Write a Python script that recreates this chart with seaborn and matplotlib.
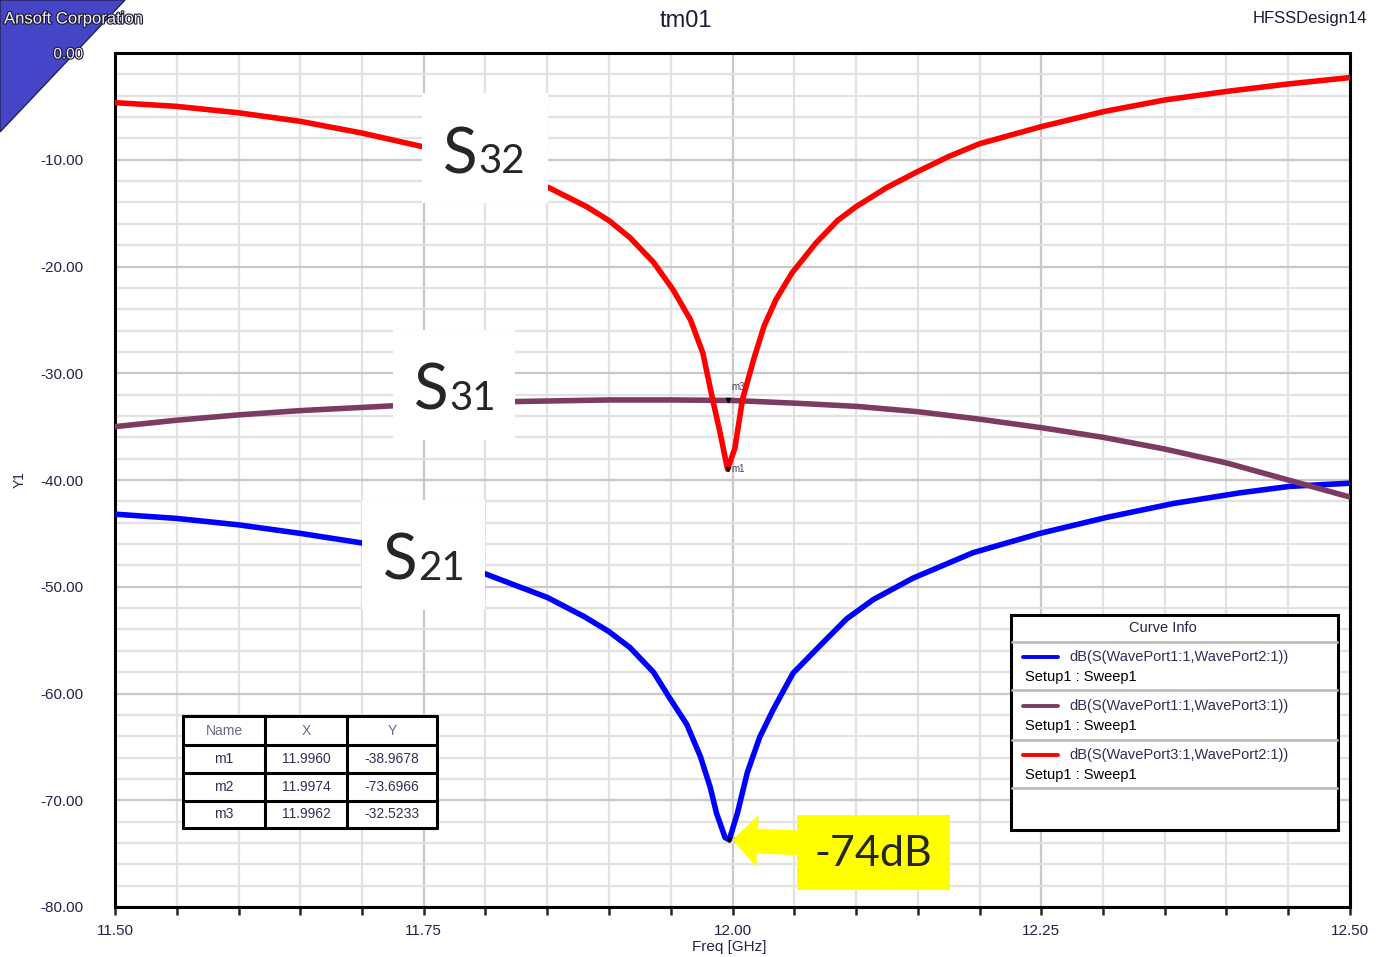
import matplotlib
matplotlib.use("Agg")
import matplotlib.pyplot as plt
import matplotlib.patches as mpatches
import matplotlib.lines as mlines
import matplotlib.patheffects as pe
import seaborn as sns
import pandas as pd
from matplotlib.ticker import MultipleLocator, FormatStrFormatter

# curve data (freq in GHz, dB)
s21_freq = [11.50, 11.55, 11.60, 11.65, 11.70, 11.75, 11.80, 11.85, 11.86, 11.88, 11.90,
            11.917, 11.936, 11.949, 11.963, 11.974, 11.982, 11.987, 11.994, 11.9974, 12.004,
            12.012, 12.022, 12.033, 12.049, 12.071, 12.0925, 12.114, 12.146, 12.195, 12.249,
            12.303, 12.357, 12.411, 12.451, 12.50]
s21_db = [-43.2, -43.6, -44.2, -45.0, -45.9, -47.1, -48.8, -51.0, -51.6, -52.8, -54.2,
          -55.7, -58.0, -60.4, -62.9, -65.9, -68.8, -71.2, -73.5, -73.7, -71.2,
          -67.4, -64.1, -61.5, -58.1, -55.5, -53.0, -51.2, -49.2, -46.8, -45.0,
          -43.5, -42.2, -41.2, -40.6, -40.3]

s31_freq = [11.50, 11.55, 11.60, 11.65, 11.70, 11.75, 11.80, 11.85, 11.90, 11.95, 12.00,
            12.05, 12.10, 12.15, 12.20, 12.25, 12.30, 12.35, 12.40, 12.45, 12.475, 12.50]
s31_db = [-35.0, -34.4, -33.9, -33.5, -33.2, -32.9, -32.7, -32.6, -32.5, -32.5, -32.55,
          -32.8, -33.1, -33.6, -34.3, -35.1, -36.0, -37.1, -38.4, -40.0, -40.8, -41.6]

s32_freq = [11.50, 11.55, 11.60, 11.65, 11.70, 11.75, 11.80, 11.851, 11.882, 11.90, 11.917,
            11.936, 11.952, 11.966, 11.976, 11.984, 11.990, 11.996, 12.002, 12.008, 12.0174,
            12.0255, 12.0352, 12.0482, 12.0676, 12.085, 12.10, 12.125, 12.15, 12.175, 12.20,
            12.25, 12.30, 12.35, 12.40, 12.45, 12.50]
s32_db = [-4.65, -5.0, -5.6, -6.4, -7.5, -8.8, -10.5, -12.6, -14.4, -15.7, -17.3,
          -19.6, -22.2, -25.0, -28.1, -32.5, -35.6, -39.0, -37.0, -32.5, -28.6,
          -25.6, -23.1, -20.6, -17.8, -15.7, -14.4, -12.6, -11.1, -9.7, -8.5,
          -6.9, -5.5, -4.4, -3.6, -2.9, -2.3]

curve_names = ["dB(S(WavePort1:1,WavePort2:1))",
               "dB(S(WavePort1:1,WavePort3:1))",
               "dB(S(WavePort3:1,WavePort2:1))"]
curve_colors = ["#0000ff", "#7b3b63", "#ff0000"]
curve_tags = ["21", "31", "32"]

marker_names = ["m1", "m2", "m3"]
marker_x = [11.9960, 11.9974, 11.9962]
marker_y = [-38.9678, -73.6966, -32.5233]

W, H = 1385, 957
TXT = "#2a1f4a"


def fp(x, y):
    # pixel position (from top-left) -> figure fraction
    return x / W, 1 - y / H


sns.set_style("white")
plt.rcParams["font.family"] = ["Liberation Sans", "DejaVu Sans"]

df = pd.concat([
    pd.DataFrame({"freq": s21_freq, "db": s21_db, "curve": curve_names[0]}),
    pd.DataFrame({"freq": s31_freq, "db": s31_db, "curve": curve_names[1]}),
    pd.DataFrame({"freq": s32_freq, "db": s32_db, "curve": curve_names[2]}),
])

fig = plt.figure(figsize=(W / 100, H / 100), dpi=100)
x0, y0 = fp(115, 907)
x1, y1 = fp(1350, 53)
ax = fig.add_axes([x0, y0, x1 - x0, y1 - y0])

sns.lineplot(data=df, x="freq", y="db", hue="curve", estimator=None,
             palette=dict(zip(curve_names, curve_colors)), linewidth=4,
             legend=False, ax=ax, zorder=3)

ax.set_xlim(11.5, 12.5)
ax.set_ylim(-80, 0)
ax.xaxis.set_major_locator(MultipleLocator(0.25))
ax.xaxis.set_minor_locator(MultipleLocator(0.05))
ax.yaxis.set_major_locator(MultipleLocator(10))
ax.yaxis.set_minor_locator(MultipleLocator(2))
ax.xaxis.set_major_formatter(FormatStrFormatter("%.2f"))
ax.yaxis.set_major_formatter(FormatStrFormatter("%.2f"))
ax.grid(which="major", color="#c8c8c8", linewidth=1.6, zorder=0)
ax.grid(which="minor", color="#e2e2e2", linewidth=1.6, zorder=0)
ax.set_axisbelow(True)
for sp in ax.spines.values():
    sp.set_linewidth(2.2)
    sp.set_color("black")
    sp.set_visible(True)
ax.tick_params(axis="y", which="major", length=15, width=2.2, direction="out",
               labelsize=11, labelcolor=TXT, pad=8)
ax.tick_params(axis="y", which="minor", length=8.5, width=2.2, direction="out")
ax.tick_params(axis="x", which="both", length=6, width=1.8, direction="out",
               labelsize=11, labelcolor=TXT, pad=6, bottom=True)
ax.set_xlabel("")
ax.set_ylabel("")
fig.text(*fp(729, 947), "Freq [GHz]", fontsize=11, ha="center", va="center", color=TXT)
fig.text(*fp(20, 480), "Y1", rotation=90, fontsize=10, ha="center", va="center", color=TXT)

# corner decoration + headers
fig.patches.append(mpatches.Polygon([fp(0, 0), fp(125, 0), fp(0, 132)], closed=True,
                                    transform=fig.transFigure, fc="#4545c8",
                                    ec="#22225a", lw=1, zorder=-1))
halo = [pe.withStroke(linewidth=1.6, foreground="#1a1a30")]
fig.text(*fp(4, 19), "Ansoft Corporation", fontsize=12, ha="left", va="center",
         color="#f4eefc", zorder=5, path_effects=halo)
fig.text(*fp(686, 21), "tm01", fontsize=17, ha="center", va="center", color="#1a1a3a")
fig.text(*fp(1367, 19), "HFSSDesign14", fontsize=12, ha="right", va="center",
         color="#1a1a3a")

fig.canvas.draw()
for lab in ax.get_yticklabels():
    if lab.get_text() == "0.00":
        lab.set_color("#f4eefc")
        lab.set_path_effects(halo)

# marker labels on the curves
for name, mx, my in zip(marker_names, marker_x, marker_y):
    ax.plot(mx, my, marker="v", ms=3, color="black", zorder=4)
    ax.text(mx + 0.003, my + 1.2 if name == "m3" else my, name, fontsize=7,
            color="#4a3a6a", ha="left", va="center", zorder=5)

# S-parameter labels in white boxes
label_boxes = [(362, 500, 485, 610), (393, 330, 515, 440), (422, 93, 548, 203)]
for tag, (bx0, by0, bx1, by1) in zip(curve_tags, label_boxes):
    lx, ly = fp(bx0, by1)
    ux, uy = fp(bx1, by0)
    fig.patches.append(mpatches.Rectangle((lx, ly), ux - lx, uy - ly,
                                          transform=fig.transFigure, fc="white",
                                          ec="none", zorder=4))
    fig.text(*fp(bx0 + 21, by0 + 80), "S", fontsize=46, family="Lato",
             ha="left", va="baseline", zorder=5)
    fig.text(*fp(bx0 + 56, by0 + 80), tag, fontsize=29, family="Lato",
             ha="left", va="baseline", zorder=5)

# -74dB callout
lx, ly = fp(797, 890)
ux, uy = fp(950, 815)
fig.patches.append(mpatches.Rectangle((lx, ly), ux - lx, uy - ly,
                                      transform=fig.transFigure, fc="#ffff00",
                                      ec="none", zorder=4))
fig.text(*fp(873, 854), "-74dB", fontsize=31, family="Lato", ha="center",
         va="center", zorder=5)
ax.annotate("", xy=(marker_x[1], marker_y[1]), xycoords="data",
            xytext=fp(800, 843), textcoords="figure fraction",
            arrowprops=dict(arrowstyle="simple,head_length=0.6,head_width=1.25,tail_width=0.6",
                            fc="#ffff00", ec="#ffff00", mutation_scale=28,
                            shrinkA=0, shrinkB=3), zorder=5)

# marker table
tx = [183, 265, 347, 437]
ty = [716, 745, 773, 801, 828]
fig.patches.append(mpatches.Rectangle(fp(tx[0], ty[-1]), (tx[-1] - tx[0]) / W,
                                      (ty[-1] - ty[0]) / H, transform=fig.transFigure,
                                      fc="white", ec="none", zorder=5))
for xv in tx:
    fig.add_artist(mlines.Line2D([fp(xv, 0)[0]] * 2, [fp(0, ty[0])[1], fp(0, ty[-1])[1]],
                                 color="black", lw=2.2, zorder=6))
for yv in ty:
    fig.add_artist(mlines.Line2D([fp(tx[0], 0)[0], fp(tx[-1], 0)[0]], [fp(0, yv)[1]] * 2,
                                 color="black", lw=2.2, zorder=6))
header = ["Name", "X", "Y"]
for j, h in enumerate(header):
    fig.text(*fp((tx[j] + tx[j + 1]) / 2, 731), h, fontsize=10, ha="center", va="center",
             color="#6a6a8a", zorder=7)
for i, (name, mx, my) in enumerate(zip(marker_names, marker_x, marker_y)):
    yc = (ty[i + 1] + ty[i + 2]) / 2
    for j, s in enumerate([name, f"{mx:.4f}", f"{my:.4f}"]):
        fig.text(*fp((tx[j] + tx[j + 1]) / 2, yc), s, fontsize=10, ha="center",
                 va="center", color="#3a2a5a", zorder=7)

# Curve Info legend box
fig.patches.append(mpatches.Rectangle(fp(1011, 830), (1338 - 1011) / W, (830 - 615) / H,
                                      transform=fig.transFigure, fc="white", ec="black",
                                      lw=2.2, zorder=5))
fig.text(*fp(1163, 628), "Curve Info", fontsize=10.5, ha="center", va="center",
         color=TXT, zorder=7)
for yv in [642, 690, 740, 788]:
    fig.add_artist(mlines.Line2D([fp(1012, 0)[0], fp(1337, 0)[0]], [fp(0, yv)[1]] * 2,
                                 color="#bdbdbd", lw=2, zorder=6))
for k, (name, col) in enumerate(zip(curve_names, curve_colors)):
    yl = 657 + 49 * k
    fig.add_artist(mlines.Line2D([fp(1023, 0)[0], fp(1058, 0)[0]], [fp(0, yl)[1]] * 2,
                                 color=col, lw=2.8, zorder=7))
    fig.text(*fp(1069, yl), name, fontsize=10.5, ha="left", va="center",
             color="#3a2a5a", zorder=7)
    fig.text(*fp(1025, yl + 20), "Setup1 : Sweep1", fontsize=10.5, ha="left",
             va="center", color="black", zorder=7)

fig.savefig("out.png", dpi=100)
